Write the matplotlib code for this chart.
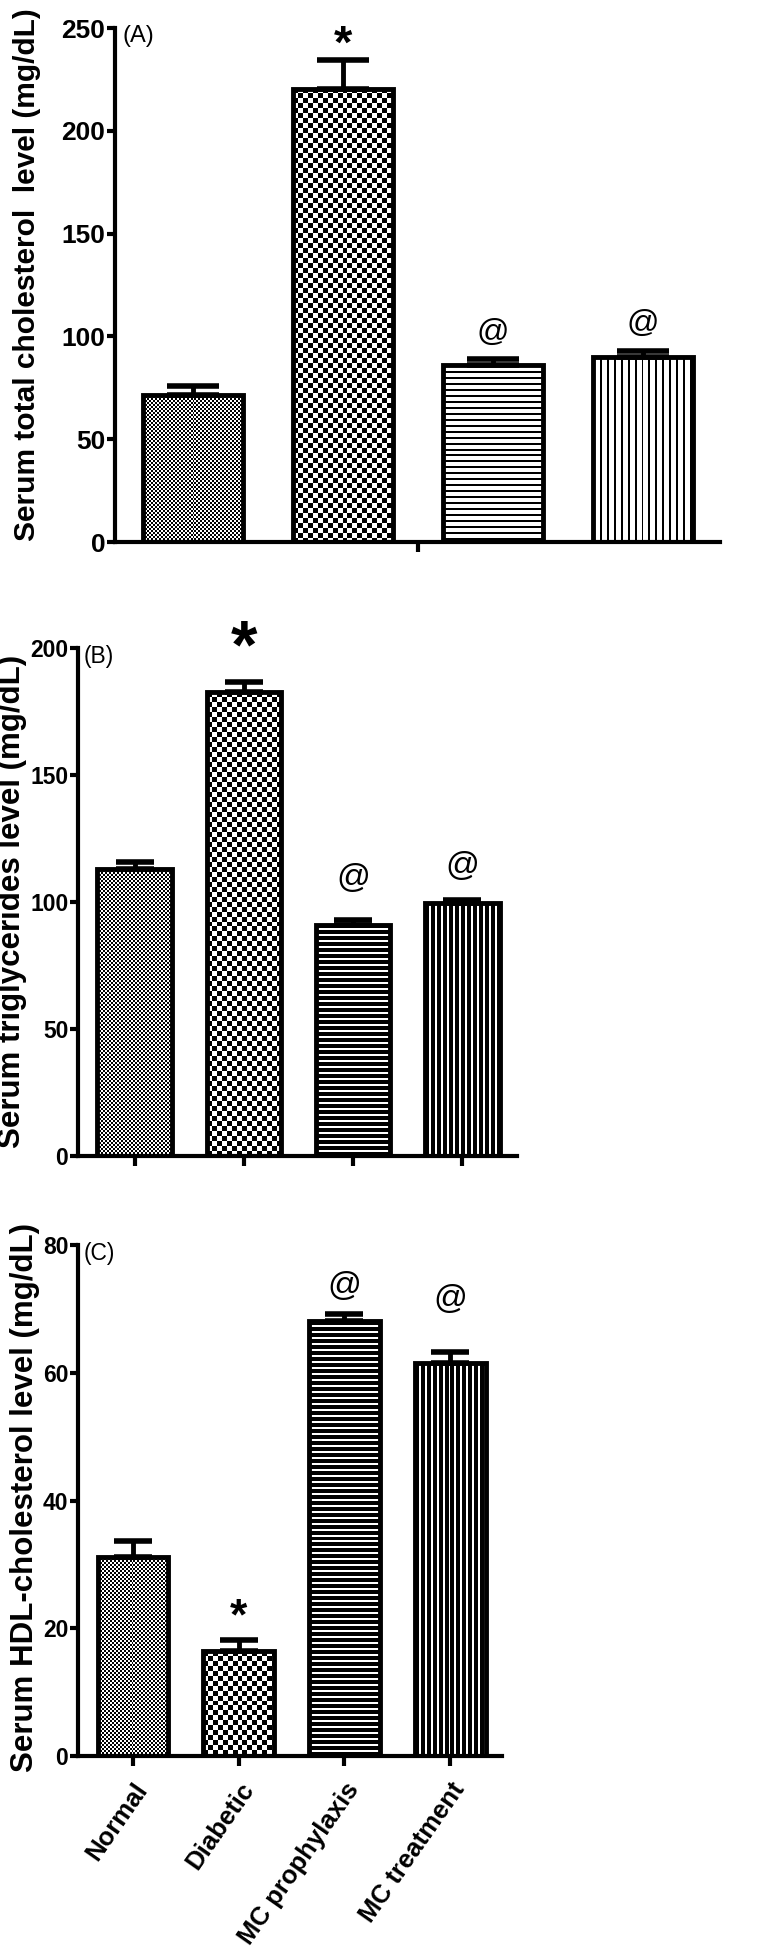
import numpy as np
import matplotlib
matplotlib.use("Agg")
import matplotlib.pyplot as plt

groups = ["Normal", "Diabetic", "MC prophylaxis", "MC treatment"]

# (A) serum total cholesterol
chol = [71.5, 220.5, 86, 90]
chol_err = [4.4, 13.8, 3, 3]
chol_sig = ["", "*", "@", "@"]

# (B) serum triglycerides
tg = [113, 182.5, 91, 99.5]
tg_err = [2.7, 4, 2, 1.2]
tg_sig = ["", "*", "@", "@"]

# (C) serum HDL-cholesterol
hdl = [31.2, 16.4, 68.1, 61.6]
hdl_err = [2.5, 1.7, 1.1, 1.6]
hdl_sig = ["", "*", "@", "@"]

plt.rcParams["font.family"] = ["Liberation Sans", "DejaVu Sans"]

W, H = 760, 1954
fig = plt.figure(figsize=(W / 100, H / 100), dpi=100)


def px_axes(left, top, right, bottom):
    return fig.add_axes([left / W, 1 - bottom / H, (right - left) / W, (bottom - top) / H])


def pattern(kind, h, w, period, black):
    yy, xx = np.mgrid[0:h, 0:w]
    if kind == "fine":
        return ((yy // 2 + xx // 2) % 2).astype(float)
    if kind == "check":
        return ((yy // 5 + xx // 5) % 2).astype(float)
    if kind == "hlines":
        return (yy % period >= black).astype(float)
    return (xx % period >= black).astype(float)


def panel(ax, vals, errs, sig, ymax, yticks, xlim, bw, cfg):
    ax.set_xlim(*xlim)
    ax.set_ylim(0, ymax)
    x = np.arange(len(vals))
    bars = ax.bar(x, vals, width=bw, facecolor="none", edgecolor="black",
                  linewidth=3.5, zorder=3)
    kinds = ["fine", "check", "hlines", "vlines"]
    for b, kind in zip(bars, kinds):
        bb = b.get_window_extent()
        arr = pattern(kind, int(round(bb.height)) + 1, int(round(bb.width)) + 1,
                      cfg["period"][kind], cfg["black"][kind])
        im = ax.imshow(arr, cmap="gray", vmin=0, vmax=1, interpolation="nearest",
                       extent=(b.get_x(), b.get_x() + b.get_width(), 0, b.get_height()),
                       aspect="auto", zorder=1)
        im.set_clip_path(b)
    ax.set_xlim(*xlim)
    ax.set_ylim(0, ymax)
    ax.errorbar(x, vals, yerr=[np.zeros(len(vals)), errs], fmt="none", ecolor="black",
                elinewidth=3.5, capsize=cfg["cap"], capthick=4, zorder=4)
    for i, s in enumerate(sig):
        if not s:
            continue
        if s == "*":
            kw = dict(fontsize=cfg["star"], fontweight="bold")
        else:
            kw = dict(fontsize=cfg["at"])
        ax.annotate(s, (x[i], vals[i] + errs[i]), xytext=(0, cfg["off"][i] * 0.72),
                    textcoords="offset points", ha="center", va="baseline", **kw)
    for side in ["top", "right"]:
        ax.spines[side].set_visible(False)
    for side in ["left", "bottom"]:
        ax.spines[side].set_linewidth(3)
    ax.set_yticks(yticks)
    ax.set_yticklabels([str(t) for t in yticks], fontsize=cfg["tick"], fontweight="bold")
    ax.tick_params(axis="y", length=6, width=3, pad=1)
    ax.tick_params(axis="x", length=7, width=3, pad=2)
    ax.set_facecolor("none")


# panel A
axA = px_axes(115, 28, 720, 542)
panel(axA, chol, chol_err, chol_sig, 250, [0, 50, 100, 150, 200, 250], (-0.52, 3.513), 0.67,
      dict(period={"fine": 4, "check": 10, "hlines": 6, "vlines": 7},
           black={"fine": 2, "check": 5, "hlines": 2, "vlines": 2},
           cap=19, star=34, at=23, tick=19, off=[0, 3, 18, 19]))
axA.set_xticks([1.5])
axA.set_xticklabels([""])
axA.text(7 / 605, 1.005, "(A)", transform=axA.transAxes, ha="left", va="top", fontsize=17)
fig.text(27 / W, 1 - 275 / H, "Serum total cholesterol  level (mg/dL)", rotation=90,
         ha="center", va="center", fontsize=21.5, fontweight="bold")

# panel B
axB = px_axes(78, 648, 517, 1156)
panel(axB, tg, tg_err, tg_sig, 200, [0, 50, 100, 150, 200], (-0.517, 3.50), 0.68,
      dict(period={"fine": 4, "check": 10, "hlines": 6, "vlines": 6},
           black={"fine": 2, "check": 5, "hlines": 4, "vlines": 4},
           cap=14, star=49, at=24, tick=16.5, off=[0, 15, 33, 25]))
axB.set_xticks(range(4))
axB.set_xticklabels([""] * 4)
axB.text(6 / 439, 1.005, "(B)", transform=axB.transAxes, ha="left", va="top", fontsize=16.5)
fig.text(12 / W, 1 - 901 / H, "Serum triglycerides level (mg/dL)", rotation=90,
         ha="center", va="center", fontsize=22.5, fontweight="bold")

# panel C
axC = px_axes(78, 1245, 502, 1756)
panel(axC, hdl, hdl_err, hdl_sig, 80, [0, 20, 40, 60, 80], (-0.52, 3.49), 0.67,
      dict(period={"fine": 4, "check": 10, "hlines": 6, "vlines": 6},
           black={"fine": 2, "check": 5, "hlines": 4, "vlines": 4},
           cap=14, star=32, at=24, tick=16.5, off=[0, 11, 19, 44]))
axC.set_xticks(range(4))
axC.set_xticklabels(groups, rotation=55, ha="right", va="top", rotation_mode="anchor",
                    fontsize=18.5, fontweight="bold")
axC.tick_params(axis="x", pad=9)
axC.text(6 / 424, 1.005, "(C)", transform=axC.transAxes, ha="left", va="top", fontsize=16.5)
fig.text(25 / W, 1 - 1497 / H, "Serum HDL-cholesterol level (mg/dL)", rotation=90,
         ha="center", va="center", fontsize=22.5, fontweight="bold")

fig.savefig("out.png", dpi=100)
